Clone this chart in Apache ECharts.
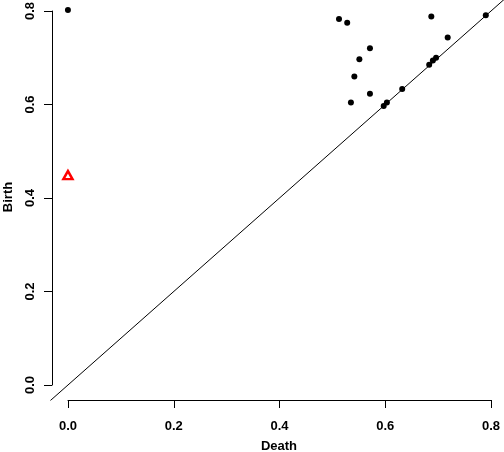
<!DOCTYPE html>
<html style="height: 100%">
<head>
<meta charset="utf-8">
<script src="https://cdn.jsdelivr.net/npm/echarts@6/dist/echarts.min.js"></script>
</head>
<body style="height: 100%; margin: 0; background: #fff">
<div id="container" style="width: 504px; height: 452px;"></div>
<script type="text/javascript">
// persistence diagram: [death, birth]
var dim0Points = [[0, 0.449]];
var dim1Points = [
  [0, 0.802], [0.5125, 0.783], [0.528, 0.775], [0.687, 0.788], [0.790, 0.791],
  [0.718, 0.743], [0.571, 0.720], [0.551, 0.697], [0.690, 0.694], [0.696, 0.700],
  [0.683, 0.685], [0.5415, 0.660], [0.571, 0.623], [0.632, 0.633], [0.535, 0.604],
  [0.597, 0.597], [0.603, 0.604]
];
var diagonal = [[-0.05, -0.05], [0.85, 0.85]];
var axisMin = -0.032, axisMax = 0.832;
var tickMin = 0, tickMax = 0.8, tickStep = 0.2;

var dom = document.getElementById("container");
var myChart = echarts.init(dom);
var font = "'Liberation Sans', Arial, sans-serif";
var txt = { fontFamily: font, fontWeight: 'bold', fontSize: 13, color: '#000' };

function fmt(v) { return v.toFixed(1); }

// axis with line + ticks only (R style, spans 0..0.8)
function lineAxis(pos, off) {
  return {
    gridIndex: 1, type: 'value', min: tickMin, max: tickMax, interval: tickStep,
    position: pos, offset: off,
    axisLine: { show: true, onZero: false, lineStyle: { color: '#000', width: 1 } },
    axisTick: { show: true, length: 8, lineStyle: { color: '#000', width: 1 } },
    axisLabel: { show: false },
    splitLine: { show: false }
  };
}
// axis with labels only
function labelAxis(pos, off, margin, rot) {
  return {
    gridIndex: 1, type: 'value', min: tickMin, max: tickMax, interval: tickStep,
    position: pos, offset: off,
    axisLine: { show: false, onZero: false },
    axisTick: { show: false },
    splitLine: { show: false },
    axisLabel: Object.assign({ margin: margin, rotate: rot, formatter: fmt }, txt)
  };
}

var option = {
  animation: false,
  grid: [
    { left: 51, top: -4, width: 457, height: 404, outerBoundsMode: 'none' },
    { left: 68, top: 11, width: 423, height: 374, outerBoundsMode: 'none' }
  ],
  xAxis: [
    { gridIndex: 0, type: 'value', min: axisMin, max: axisMax, show: false },
    lineAxis('bottom', 15),
    labelAxis('bottom', 15, 20, 0)
  ],
  yAxis: [
    { gridIndex: 0, type: 'value', min: axisMin, max: axisMax, show: false },
    lineAxis('left', 16),
    labelAxis('left', 16, 15, 90)
  ],
  graphic: [
    {
      type: 'text', x: 279, y: 446,
      style: { text: 'Death', font: "bold 13px 'Liberation Sans', Arial, sans-serif", fill: '#000', align: 'center', verticalAlign: 'middle' }
    },
    {
      type: 'text', x: 8, y: 197, rotation: Math.PI / 2,
      style: { text: 'Birth', font: "bold 13px 'Liberation Sans', Arial, sans-serif", fill: '#000', align: 'center', verticalAlign: 'middle' }
    }
  ],
  series: [
    {
      type: 'line', xAxisIndex: 0, yAxisIndex: 0, data: diagonal,
      symbol: 'none', silent: true, clip: true, lineStyle: { color: '#000', width: 1 }
    },
    {
      type: 'scatter', xAxisIndex: 0, yAxisIndex: 0, data: dim1Points,
      symbol: 'circle', symbolSize: 6, itemStyle: { color: '#000', opacity: 1 }
    },
    {
      type: 'scatter', xAxisIndex: 0, yAxisIndex: 0, data: dim0Points,
      symbol: 'triangle', symbolSize: [9, 8],
      itemStyle: { color: '#fff', borderColor: '#ff0000', borderWidth: 2.5, opacity: 1 }
    }
  ]
};
myChart.setOption(option);
</script>
</body>
</html>
